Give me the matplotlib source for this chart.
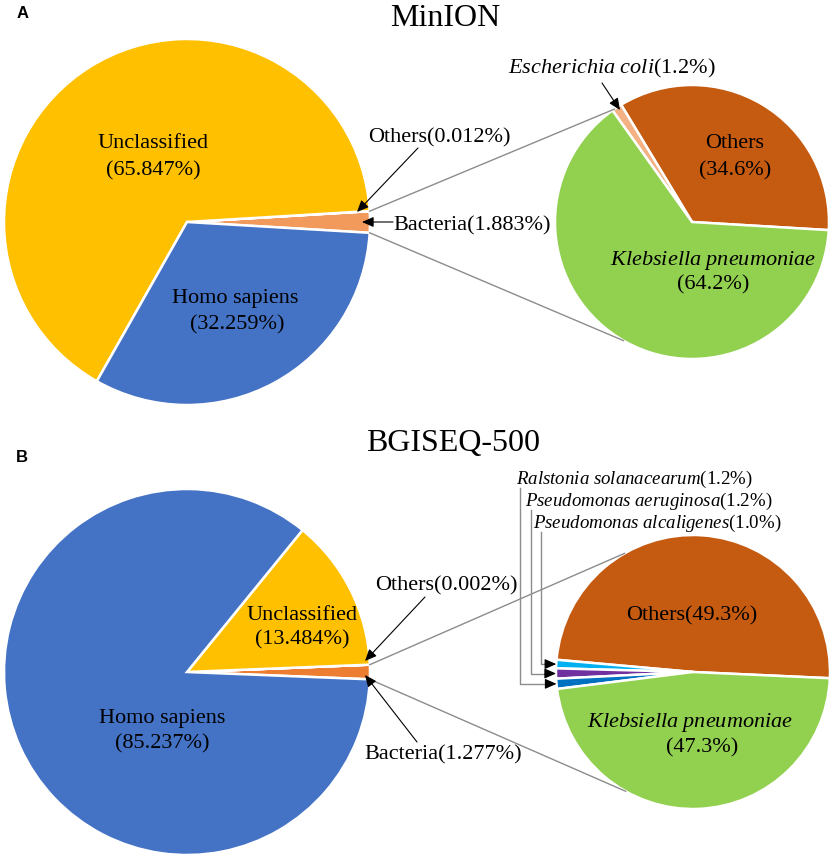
import numpy as np
import matplotlib as mpl
mpl.use("Agg")
import matplotlib.pyplot as plt

W, H = 834, 858

# panel A: MinION
bigALabels = ["Bacteria", "Others", "Unclassified", "Homo sapiens"]
bigAValues = [1.883, 0.012, 65.847, 32.259]
smallALabels = ["Others", "Escherichia coli", "Klebsiella pneumoniae"]
smallAValues = [34.6, 1.2, 64.2]

# panel B: BGISEQ-500
bigBLabels = ["Bacteria", "Others", "Unclassified", "Homo sapiens"]
bigBValues = [1.277, 0.002, 13.484, 85.237]
smallBLabels = ["Others", "Pseudomonas alcaligenes", "Pseudomonas aeruginosa",
                "Ralstonia solanacearum", "Klebsiella pneumoniae"]
smallBValues = [49.3, 1.0, 1.2, 1.2, 47.3]

titles = ["MinION", "BGISEQ-500"]

plt.rcParams["font.family"] = ["Liberation Serif", "DejaVu Serif"]
plt.rcParams["mathtext.fontset"] = "custom"
plt.rcParams["mathtext.rm"] = "Liberation Serif"
plt.rcParams["mathtext.it"] = "Liberation Serif:italic"

fig = plt.figure(figsize=(W / 100, H / 100), dpi=100)
ax = fig.add_axes([0, 0, 1, 1])
ax.set_xlim(0, W)
ax.set_ylim(0, H)
ax.set_aspect("equal")
ax.axis("off")


def Y(y):
  return H - y


def it(s):
  return "$\\mathit{" + s.replace(" ", "\\ ") + "}$"


def ptOn(w, ang):
  cx, cy = w.center
  a = np.radians(ang)
  return (cx + w.r * np.cos(a), cy + w.r * np.sin(a))


def drawPie(values, colors, center, r, start):
  wedges, _ = ax.pie(values, colors=colors, center=(center[0], Y(center[1])), radius=r,
      startangle=start, counterclock=True, normalize=True,
      wedgeprops=dict(edgecolor="white", linewidth=1.8), frame=True)
  return wedges


fs = 16
arrowKw = dict(arrowstyle="-|>,head_length=0.5,head_width=0.22", color="black", lw=0.8,
    mutation_scale=14, shrinkA=0, shrinkB=0)
grayKw = dict(color="#8c8c8c", lw=1.0)

# ---------------- panel A ----------------
bigA = drawPie(bigAValues, ["#F19A5B", "#A5A5A5", "#FFC000", "#4472C4"], (187, 222), 183,
    -bigAValues[0] * 3.6 / 2)
smallA = drawPie(smallAValues, ["#C55A11", "#F4B183", "#92D050"], (692, 222), 137, -3.4)

ax.text(445, Y(18), titles[0], fontsize=23, ha="center", va="center")
ax.text(23, Y(14), "A", fontsize=12, fontweight="bold", family="Liberation Sans", ha="center", va="center")

ax.text(153, Y(143), bigALabels[2], fontsize=fs, ha="center", va="center")
ax.text(153, Y(171), "({:.3f}%)".format(bigAValues[2]), fontsize=fs, ha="center", va="center")
ax.text(235, Y(299), bigALabels[3], fontsize=fs, ha="center", va="center")
ax.text(237, Y(325), "({:.3f}%)".format(bigAValues[3]), fontsize=fs, ha="center", va="center")

ax.text(735, Y(144), smallALabels[0], fontsize=fs, ha="center", va="center")
ax.text(735, Y(171), "({:.1f}%)".format(smallAValues[0]), fontsize=fs, ha="center", va="center")
ax.text(713, Y(260), it(smallALabels[2]), fontsize=fs, ha="center", va="center")
ax.text(713, Y(285), "({:.1f}%)".format(smallAValues[2]), fontsize=fs, ha="center", va="center")

# zoom lines
bw = bigA[0]
p1 = ptOn(bw, bw.theta2)
p2 = ptOn(bw, bw.theta1)
ax.plot([p1[0], ptOn(smallA[0], 124.5)[0]], [p1[1], ptOn(smallA[0], 124.5)[1]], **grayKw)
ax.plot([p2[0], ptOn(smallA[0], 240)[0]], [p2[1], ptOn(smallA[0], 240)[1]], **grayKw)

ax.text(368, Y(138), "{}({:.3f}%)".format(bigALabels[1], bigAValues[1]), fontsize=fs, ha="left", va="center")
ax.annotate("", xy=(357, Y(212)), xytext=(418, Y(148)), arrowprops=arrowKw)
ax.text(393, Y(226), "{}({:.3f}%)".format(bigALabels[0], bigAValues[0]), fontsize=fs, ha="left", va="center")
ax.annotate("", xy=(362, Y(222)), xytext=(393, Y(222)), arrowprops=arrowKw)

ax.text(508, Y(68), it(smallALabels[1]) + "({:.1f}%)".format(smallAValues[1]), fontsize=fs,
    ha="left", va="center")
ax.annotate("", xy=(620, Y(110)), xytext=(602, Y(83)), arrowprops=arrowKw)

# ---------------- panel B ----------------
bigB = drawPie(bigBValues, ["#ED7D31", "#A5A5A5", "#FFC000", "#4472C4"], (187, 672), 183,
    -bigBValues[0] * 3.6 / 2)
smallB = drawPie(smallBValues, ["#C55A11", "#00B0F0", "#7030A0", "#0070C0", "#92D050"],
    (693, 672), 137, -2.6)

ax.text(453, Y(444), titles[1], fontsize=23, ha="center", va="center")
ax.text(22, Y(458), "B", fontsize=12, fontweight="bold", family="Liberation Sans", ha="center", va="center")

ax.text(302, Y(615), bigBLabels[2], fontsize=fs, ha="center", va="center")
ax.text(302, Y(640), "({:.3f}%)".format(bigBValues[2]), fontsize=fs, ha="center", va="center")
ax.text(162, Y(718), bigBLabels[3], fontsize=fs, ha="center", va="center")
ax.text(162, Y(744), "({:.3f}%)".format(bigBValues[3]), fontsize=fs, ha="center", va="center")

ax.text(692, Y(616), "{}({:.1f}%)".format(smallBLabels[0], smallBValues[0]), fontsize=fs, ha="center", va="center")
ax.text(690, Y(723), it(smallBLabels[4]), fontsize=fs, ha="center", va="center")
ax.text(702, Y(748), "({:.1f}%)".format(smallBValues[4]), fontsize=fs, ha="center", va="center")

bw = bigB[0]
p1 = ptOn(bw, bw.theta2)
p2 = ptOn(bw, bw.theta1)
ax.plot([p1[0], ptOn(smallB[0], 120)[0]], [p1[1], ptOn(smallB[0], 120)[1]], **grayKw)
ax.plot([p2[0], ptOn(smallB[0], 240.5)[0]], [p2[1], ptOn(smallB[0], 240.5)[1]], **grayKw)

ax.text(375, Y(586), "{}({:.3f}%)".format(bigBLabels[1], bigBValues[1]), fontsize=fs, ha="left", va="center")
ax.annotate("", xy=(365, Y(661)), xytext=(425, Y(597)), arrowprops=arrowKw)
ax.text(364, Y(755), "{}({:.3f}%)".format(bigBLabels[0], bigBValues[0]), fontsize=fs, ha="left", va="center")
ax.annotate("", xy=(365, Y(675)), xytext=(417, Y(742)), arrowprops=arrowKw)

# species labels with elbow connectors
specTextX = [533, 525, 516]
specTextY = [523, 501, 479]
specLineX = [541, 531, 520]
for i, idx in enumerate([1, 2, 3]):
  w = smallB[idx]
  tip = ptOn(w, (w.theta1 + w.theta2) / 2)
  ax.text(specTextX[i], Y(specTextY[i]), it(smallBLabels[idx]) + "({:.1f}%)".format(smallBValues[idx]),
      fontsize=13.6, ha="left", va="center")
  ax.plot([specLineX[i], specLineX[i], tip[0] - 11], [Y(specTextY[i] + 9), tip[1], tip[1]],
      color="#8c8c8c", lw=1.0)
  ax.annotate("", xy=tip, xytext=(tip[0] - 11, tip[1]), arrowprops=arrowKw)

ax.set_xlim(0, W)
ax.set_ylim(0, H)
fig.savefig("out.png", dpi=100, facecolor="white")
